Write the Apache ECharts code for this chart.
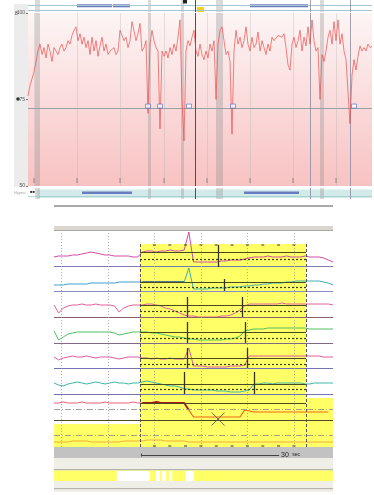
<!DOCTYPE html>
<html><head><meta charset="utf-8">
<script src="https://cdn.jsdelivr.net/npm/echarts@6/dist/echarts.min.js"></script>
<style>html,body{margin:0;padding:0;background:#fff;}#c{width:374px;height:495px;}</style>
</head><body><div id="c"></div>
<script>
// ===== DATA: overview trend (one sample per epoch index) =====
const spo2 = [76,79,81,83,86,89,91,88,90,87,91,89,86,90,89,88,90,91,89,90,92,91,93.5,95,96,92,94,91,93,90,92,88,93,89,92,87.5,90.5,93,89,91,88,89,89,90,88,89,95,94.5,92,93,90,92,97.5,98,92,94,97,89,90,92,71,91,95,92,90,89,66.5,89,87.5,89,87,90,88,91,89,93,98,75,63,89,92,90.5,93,95,89,87.5,91,88,86.5,89,87,91,89,92,75,91,95,96,92,88,89,86,65,89,95,91,93,90,92,96,91,89,93,90,91,94.5,89,92,90,88,91,89,93,92,92,93.5,93.5,93,94,90,85,83.5,91,93,90,92,95,89,93,90.5,96,91,98,92,89,90,75,88,86,89,93,95,91,97.5,92,98,91,94,89,86.5,87,68,82,86.5,83.5,87.5,90.5,89,90,89,91,90,90.5];
const spo2Ticks = [50, 75, 100];
const grayBands = [[3.5,6],[60,61.5],[76.5,78],[94,97.5],[146,148]];
const cursorEpoch = 83.5;
const eventEpochs = [141, 161];
const epochGrid = [3,24.5,46,68,89.5,111,132.5,154];
const desatMarks = [60,66,80.5,102.5,163];
const desatLevel = 72.5;
const topSegments = [[24.5,42],[42.5,51],[111,140]];
const bottomSegments = [[27,52],[108,135.5]];

// ===== DATA: detail window (1 sample / second, deviations from channel baseline) =====
const ch1 = [0,1,1,1,2,2,3,4,5,4,3,2,2,1,1,1,1,0,0, 5,6,6,5,6,6,7,6,6,7, 25, -5,-5,-5,-5,-5,-5,-4,-4,-3,-3,-3,-2, -1,0,0,0,1,0,0,0,1,0,0,0,1,0,0,0,-1,-3,-5];
const ch2 = [0,0,0,1,1,1,1,1,2,2,2,2,2,2,3,3,3,3,3, 3,3,3,3,3,3,3,3,3,3, 17, -4,-4,-4,-4,-3,-3,-3,-3,-2,-2,-2,-1,-1,0,0,1,1,2,2,2,3,3,4,4,4,4,4,4,3,2,0];
const ch3 = [0,-8,-3,-1,0,0,1,0,0,1,0,0,0,-1,-7,-3,-1,0,0, 0,1,1,0,-1,-3,-4,-6,-8,-10, -11,-11,-12,-12,-12,-12,-12,-11,-11,-10,-8,-5, -1,1,1,1,1,1,1,1,2,1,1,1,1,1,1,1,1,1,1,0];
const ch4 = [0,-9,-6,-3,-2,-1,-1,-1,-1,-1,-1,-1,-1,-2,-4,-3,-2,-1,-1, -1,-1,-2,-2,-3,-4,-5,-6,-6,-7, -8,-8,-9,-9,-9,-9,-9,-9,-8,-8,-7,-5, 0,1,2,2,2,3,3,3,3,3,3,3,3,3,2,2,2,2,2,2];
const ch5 = [0,-3,-1,0,1,0,0,1,0,-1,0,0,0,-1,-2,-1,0,0,0, -1,-1,-2,-1,-2,-2,-1,-2,-2,-2, 9, -9,-9,-9,-10,-10,-10,-10,-10,-9,-9,-9,-8, 1,1,1,1,1,1,1,1,1,1,1,1,1,1,1,1,0,0,0];
const ch6 = [0,-2,-3,-1,0,1,0,-1,0,1,0,-1,0,1,0,0,-1,0,0, 1,2,1,0,-1,-2,-3,-3,-4, -6,-6,-7,-7,-7,-7,-7,-8,-8,-8,-9,-9,-9,-8,-7, -1,-1,0,0,-1,0,0,0,0,0,0,-1,-1,0,0,0,0,0];
const ch7 = [0,0,1,0,0,0,1,0,0,0,0,1,0,0,0,0,0,1,0,0,0,0,1,0,0,0,0,0,0, -7, -14,-14,-14,-14,-14,-14,-14,-14,-14,-14,-14, -7, -8,-9,-9,-9,-9,-9,-9,-9,-9,-9,-9,-9,-9,-9,-9,-9,-9,-9];
const ch8 = [0,0,0,0,1,1,1,1,0,0,0,0,0,0,0,1,1,1,1,1,2,2,2,2,1,1,1,1,1,0,0,0,0,0,0,0,0,0,0,0,0,0,0,0,0,0,0,0,0,0,0,0,0,0,0,0,0,0,0,0,0];
const highlight = [18.5, 54.2];
const secGrid = [1.6,11.6,21.6,31.6,41.6,51.6];
const secTicks = [21.6,24.9,28.3,31.6,34.9,38.3,41.6,44.9,48.3,51.6];
const eventSecs = [[35.3],[36.6],[28.6,40.4],[28.6,41.1],[28.6,41.5],[28.0,43.0]];
const crossSec = 35.3;
const scaleBar = [18.7, 48.4];
const whitePatches = [[13.5,20.6],[21.9,22.8],[23.2,24.1],[24.7,25.4],[28.2,30.1]];

// ===== LAYOUT (channel stacking in detail panel units) =====
const base = [190,162,142,116,90,64,44,5];
const sepU = [181,156,130,104,79,53,27];
const sepC = ['#7c7cb4','#8c8cc4','#8a6070','#806888','#7474b4','#7474b4','#4a4a2a'];
const solidU = [195,165,142,115,89,63,44];
const dottedU = [188,160,136,109,83,58];
const evSpan = [[180,202],[156,168],[130,150],[104,125],[79,99],[53,75]];
const YEL = '#ffff66';

const chart = echarts.init(document.getElementById('c'));
const pts = (dev, b, from, to) => dev.map((v,i)=>[i, b+v]).slice(from, to);
const seg = (x1,y1,x2,y2,ls) => [{coord:[x1,y1], lineStyle:ls},{coord:[x2,y2]}];
const area = (x1,y1,x2,y2,c) => [{coord:[x1,y1], itemStyle:{color:c}},{coord:[x2,y2]}];
const mk = (xi, yi, z, areas, lines) => ({type:'line', xAxisIndex:xi, yAxisIndex:yi, data:[], z:z, silent:true,
  markArea: areas ? {silent:true, data:areas} : undefined,
  markLine: lines ? {silent:true, symbol:'none', label:{show:false}, data:lines} : undefined});

const bandAreas = grayBands.map(b=>[{xAxis:b[0], itemStyle:{color:'rgba(140,140,140,0.32)'}},{xAxis:b[1]}]);
const vLines = [{xAxis:cursorEpoch, lineStyle:{color:'#3a4aa0', width:1, type:'solid'}}]
  .concat(eventEpochs.map(e=>({xAxis:e, lineStyle:{color:'#8a8aa0', width:0.8, type:'solid'}})));

const series = [];
// grid A: top bar
series.push(mk(0,0,1,
  topSegments.map(s=>area(s[0],4.7,s[1],7.7,'#6a7cc0'))
    .concat(bandAreas)
    .concat([area(84.5,0,88,5,'#f2d21a'), area(77.5,8.5,79.5,12,'#222')]),
  [{yAxis:7, lineStyle:{color:'#a9c6d6',width:1,type:'solid'}},{yAxis:2, lineStyle:{color:'#a9c6d6',width:1,type:'solid'}}].concat(vLines)));
// grid B: trend plot
series.push(mk(1,1,1, bandAreas,
  [{yAxis:desatLevel, lineStyle:{color:'#9aa0a8',width:1,type:'solid'}}]
   .concat(epochGrid.map(e=>({xAxis:e, lineStyle:{color:'rgba(175,175,175,0.55)',width:0.6,type:'solid'}})))
   .concat(vLines)));
series.push({type:'line', xAxisIndex:1, yAxisIndex:1, z:5, data:spo2.map((v,i)=>[i,v]), showSymbol:false, symbol:'none',
  lineStyle:{color:'rgba(236,72,72,0.85)', width:0.8}});
series.push({type:'scatter', xAxisIndex:1, yAxisIndex:1, z:6, data:desatMarks.map(x=>[x, desatLevel+0.6]),
  symbol:'rect', symbolSize:[5,4], itemStyle:{color:'#ffffff', borderColor:'#5070c0', borderWidth:0.8}});
series.push({type:'scatter', xAxisIndex:1, yAxisIndex:1, z:6, data:epochGrid.map(x=>[x,51.6]),
  symbol:'rect', symbolSize:[1,5], itemStyle:{color:'#777'}});
// grid C: bottom strip
series.push(mk(2,2,1,
  [area(4.5,1,172,9.5,'#d3eaea')].concat(bottomSegments.map(s=>area(s[0],5,s[1],7.5,'#6a7cc0'))).concat(bandAreas),
  [{yAxis:2.5, lineStyle:{color:'#9fcaca',width:0.8,type:'solid'}}].concat(vLines)));

// grid D: detail channels
series.push(mk(3,3,1, [
  area(highlight[0],0,highlight[1],203,YEL),
  area(highlight[1],0,60,49,YEL),
  area(0,0,highlight[0],23,YEL)
], null));
let dl = [];
sepU.forEach((u,i)=>dl.push(seg(0,u,60,u,{color:sepC[i],width:1.2,type:'solid'})));
dl.push(seg(0,38,60,38,{color:'#8c8c8c',width:0.8,type:[6,2,1,2]}));
dl.push(seg(0,12,60,12,{color:'#8c8c8c',width:0.8,type:[6,2,1,2]}));
secGrid.forEach(t=>dl.push(seg(t,0,t,216,{color:'#9a9a9a',width:0.8,type:[1,2]})));
highlight.forEach(t=>dl.push(seg(t,0,t,203,{color:'#555',width:1,type:[3,2]})));
solidU.forEach(u=>dl.push(seg(highlight[0],u,highlight[1],u,{color:'#4a4a22',width:1,type:'solid'})));
dottedU.forEach(u=>dl.push(seg(highlight[0],u,highlight[1],u,{color:'#3a3a12',width:1.2,type:[2,2]})));
eventSecs.forEach((arr,i)=>arr.forEach(t=>dl.push(seg(t,evSpan[i][0],t,evSpan[i][1],{color:'#34341c',width:1.3,type:'solid'}))));
series.push(mk(3,3,2,null,dl));
const L = (data,color,w,z) => ({type:'line', xAxisIndex:3, yAxisIndex:3, z:z||3, data:data, showSymbol:false, symbol:'none', lineStyle:{color:color,width:w||1}});
series.push(L(pts(ch1,base[0],0,61),'#d24aa8'));
series.push(L(pts(ch2,base[1],0,20),'#3c9ed4'));
series.push(L(pts(ch2,base[1],19,29),'#1f4fa0',1.3));
series.push(L(pts(ch2,base[1],28,61),'#3cb0b4'));
series.push(L(pts(ch3,base[2],0,61),'#e0609a'));
series.push(L(pts(ch4,base[3],0,61),'#4fbf62'));
series.push(L(pts(ch5,base[4],0,61),'#dc5aa0'));
series.push(L(pts(ch6,base[5],0,61),'#3cb6aa'));
series.push(L(pts(ch7,base[6],0,20),'#e8607a'));
series.push(L(pts(ch7,base[6],19,30),'#a81414',1.8));
series.push(L(pts(ch7,base[6],29,61),'#f06418',1.2));
series.push(L(pts(ch8,base[7],0,61),'rgba(235,150,40,0.8)'));
series.push({type:'scatter', xAxisIndex:3, yAxisIndex:3, z:5, data:[[crossSec,28]], symbol:'path://M0,0L10,10M10,0L0,10', symbolSize:13,
  itemStyle:{color:'none', borderColor:'#444', borderWidth:1}});
series.push({type:'scatter', xAxisIndex:3, yAxisIndex:3, z:5, data:secTicks.map(t=>[t,202]).concat(secTicks.map(t=>[t,1])),
  symbol:'rect', symbolSize:[3,1.5], itemStyle:{color:'#555'}});

// grid E: bottom bars
series.push(mk(4,4,1, [
  area(0,34,60,45,'#c2c2c2'),
  area(0,23,60,34,'#efeee7'),
  area(0,21.5,60,23,'#b4b4ac'),
  area(0,11,60,21.5,YEL),
  area(0,4,60,11,'#efeee7'),
  area(0,2.5,60,4,'#b4b4ac'),
  area(0,0,60,2.5,'#efeee7')
].concat(whitePatches.map(p=>area(p[0],11,p[1],21,'#ffffff'))), null));
series.push(mk(4,4,2,null,[
  [{coord:[scaleBar[0],37], lineStyle:{color:'#444',width:1.2,type:'solid'},
    label:{show:true, position:'end', distance:2, formatter:'{a|30} {b|sec}', rich:{a:{fontSize:7,color:'#222'},b:{fontSize:5,color:'#222'}}}},
   {coord:[scaleBar[1],37]}],
  seg(scaleBar[0],35.5,scaleBar[0],38.5,{color:'#444',width:1,type:'solid'})
]));

const xa = (g,max)=>({gridIndex:g, type:'value', min:0, max:max, show:false});
const ya = (g,min,max)=>({gridIndex:g, type:'value', min:min, max:max, show:false});
chart.setOption({
  animation:false,
  backgroundColor:'#ffffff',
  grid:[
    {left:28, width:344, top:0, height:12},
    {left:28, width:344, top:13, height:173, show:true, borderWidth:0,
      backgroundColor:{type:'linear',x:0,y:0,x2:0,y2:1,colorStops:[{offset:0,color:'#fdf5f5'},{offset:1,color:'#f8c2c2'}]}},
    {left:28, width:344, top:188, height:11},
    {left:54, width:279, top:228, height:219},
    {left:54, width:279, top:447, height:45}
  ],
  xAxis:[xa(0,172),xa(1,172),xa(2,172),xa(3,60),xa(4,60)],
  yAxis:[ya(0,0,12),
    {gridIndex:1, type:'value', min:spo2Ticks[0], max:spo2Ticks[2], interval:25,
     axisLabel:{fontSize:5, color:'#555', margin:3}, axisLine:{show:false},
     axisTick:{show:true, length:2, lineStyle:{color:'#777'}}, splitLine:{show:false}},
    ya(2,0,11), ya(3,0,219), ya(4,0,45)],
  graphic:[
    {type:'rect', shape:{x:14,y:4,width:14,height:183}, style:{fill:'#ececec'}, z:-1},
    {type:'text', x:15, y:11, style:{text:'8', fontSize:5, fill:'#333'}},
    {type:'circle', shape:{cx:18, cy:99, r:1.8}, style:{fill:'#333'}},
    {type:'text', x:14, y:191, style:{text:'Hypno', fontSize:4, fill:'#aaa'}},
    {type:'text', x:30, y:190, style:{text:'■■', fontSize:4, fill:'#333'}},
    {type:'text', x:360, y:191, style:{text:'■■■', fontSize:4, fill:'#333'}},
    {type:'rect', shape:{x:54,y:205,width:279,height:2}, style:{fill:'#a9a9a9'}},
    {type:'rect', shape:{x:54,y:226,width:279,height:4}, style:{fill:'#d9d7cf'}},
    {type:'rect', shape:{x:54,y:230,width:279,height:1}, style:{fill:'#a9a8a0'}}
  ],
  series:series
});
</script></body></html>
